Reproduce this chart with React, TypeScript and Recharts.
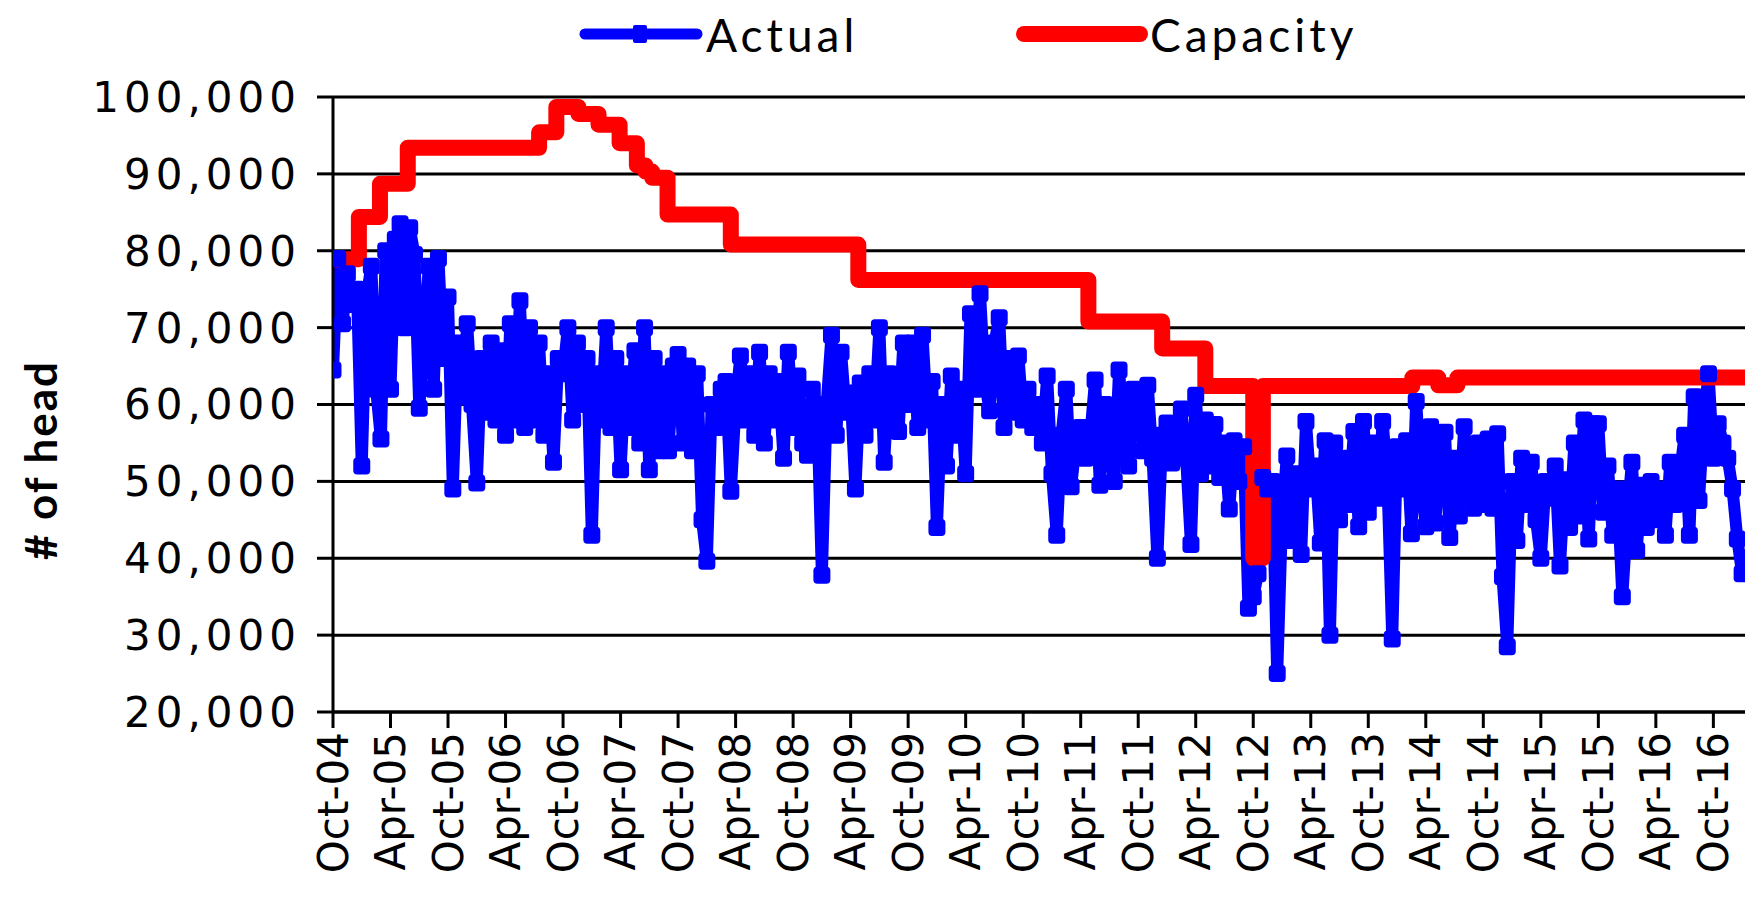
import { LineChart, Line, XAxis, YAxis, CartesianGrid } from "recharts"

// Actual head count, thousands, one value every half month.
// Each array is one Oct..Sep year, starting Oct-04.
const FY05 = [64.5, 79, 70.5, 77, 73, 75, 52, 74, 78, 62, 55.5, 80, 62, 81.5, 83.5, 70, 83, 79.5, 59.5, 69, 78, 62, 79, 66]
const FY06 = [74, 49, 68, 61, 70.5, 60, 49.8, 66, 59, 68, 58, 67, 56, 70.5, 58, 73.5, 57, 70, 58, 68, 56, 64, 52.5, 66]
const FY07 = [64, 70, 58, 68, 60, 66, 43, 64, 58, 70, 57, 66, 51.5, 64, 57, 67, 55, 70, 51.5, 66, 54, 64, 54, 65]
const FY08 = [66.5, 55, 65, 54, 64, 45, 39.6, 60, 57, 62, 63, 48.7, 60, 66.3, 58, 64, 56, 66.8, 55, 64, 58, 63, 53, 66.8]
const FY09 = [57, 63.7, 55, 53.4, 62, 60, 37.8, 60, 69, 56, 66.8, 59, 61.5, 49, 62.8, 56, 64, 58, 70, 52.5, 64, 60, 56.5, 68]
const FY10 = [60, 68, 57, 69, 58, 63, 44, 60, 52, 63.7, 56, 62, 51, 71.8, 62, 74.4, 63, 59.2, 68, 71.3, 57, 66, 59, 66.3]
const FY11 = [58, 62, 57, 60, 55, 63.7, 51, 43, 56, 62, 49.3, 55, 57, 53, 56, 63.2, 49.5, 60, 54, 50, 64.5, 56, 52, 62]
const FY12 = [61, 54, 62.5, 53, 40, 56, 57.6, 52.4, 56, 59.4, 53, 41.8, 61.2, 51, 58, 52, 57.4, 50.5, 55, 46.4, 55.3, 50, 54.5, 33.5]
const FY13 = [35, 38, 50.5, 49, 50, 25, 45, 53.3, 42.3, 51, 40.5, 57.8, 49, 52, 42, 55.3, 30, 55, 45, 53, 47, 56.5, 44.1, 57.8]
const FY14 = [46, 55, 47.8, 57.8, 50, 29.5, 54.5, 49, 55.3, 43.2, 60.4, 50, 44.1, 57.1, 44.6, 55, 56.4, 42.7, 53, 45.5, 57.1, 48.3, 46.5, 55]
const FY15 = [47, 55.5, 46.5, 56.2, 37.6, 28.5, 50, 42.3, 53, 47, 52.5, 45, 40, 50, 47.8, 52, 39, 50.2, 44, 55, 45.5, 58, 42.5, 57.5]
const FY16 = [57.5, 46, 52, 43, 49, 35, 45, 52.5, 41, 49.5, 44, 50, 45, 49, 43, 52.5, 47, 51, 56, 43, 61, 47.5, 58, 64]
const FY17 = [53, 57.5, 55, 53, 49, 42.5, 38, 40]

const ACTUAL_YEARS = [FY05, FY06, FY07, FY08, FY09, FY10, FY11, FY12, FY13, FY14, FY15, FY16, FY17]

// Capacity changes: months since Oct-04 and the new level, thousands
const CAP_MONTHS = [0, 2.7, 4.9, 7.8, 21.5, 23.3, 25.6, 27.7, 29.9, 31.7, 32.6, 33.3, 34.9, 41.5, 54.8, 78.8, 86.5, 91, 96, 97, 112.6, 115.3, 117.3, 148]
const CAP_VALUES = [78.9, 84.4, 88.7, 93.4, 95.4, 98.7, 97.8, 96.4, 94, 91.1, 90.3, 89.5, 84.7, 80.8, 76.2, 70.8, 67.3, 62.4, 40, 62.4, 63.5, 62.5, 63.5, 63.5]

const TICK_MONTHS = [0, 6, 12, 18, 24, 30, 36, 42, 48, 54, 60, 66, 72, 78, 84, 90, 96, 102, 108, 114, 120, 126, 132, 138, 144]
const Y_TICKS = [20000, 30000, 40000, 50000, 60000, 70000, 80000, 90000, 100000]

const actualData = ACTUAL_YEARS.flatMap((year, y) =>
  year.map((v, i) => ({ m: y * 12 + i * 0.5, actual: v * 1000 }))
)
const capacityData = CAP_MONTHS.map((m, i) => ({ m, capacity: CAP_VALUES[i] * 1000 }))

// month offset from Oct-04 -> "Oct-04" / "Apr-05"
const tickLabel = (m: number) => {
  const isOct = m % 12 === 0
  const yy = isOct ? 2004 + m / 12 : 2005 + Math.floor(m / 12)
  return `${isOct ? "Oct" : "Apr"}-${String(yy % 100).padStart(2, "0")}`
}

const FONT = "'DejaVu Sans', Verdana, sans-serif"
const LEGEND_FONT = "Lato, Calibri, sans-serif"

function XTick({ x, y, payload }: any) {
  return (
    <text
      x={x}
      y={y}
      transform={`rotate(-90 ${x} ${y})`}
      textAnchor="end"
      dominantBaseline="central"
      fontFamily={FONT}
      fontSize={42}
      fill="#000"
    >
      {tickLabel(payload.value)}
    </text>
  )
}

function SquareDot(props: any) {
  const { cx, cy, index } = props
  if (cx == null || cy == null) return <g key={index} />
  return <rect key={index} x={cx - 8.5} y={cy - 8.5} width={17} height={17} rx={4} fill="#0000FF" />
}

function LegendBar() {
  return (
    <svg width={1750} height={70} style={{ position: "absolute", left: 0, top: 0 }}>
      <line x1={585} y1={34} x2={697} y2={34} stroke="#0000FF" strokeWidth={11} strokeLinecap="round" />
      <rect x={633} y={25} width={14} height={18} rx={2} fill="#0000FF" />
      <text x={706} y={34} dominantBaseline="central" fontFamily={LEGEND_FONT} fontSize={46} letterSpacing={4} fill="#000">
        Actual
      </text>
      <line x1={1024} y1={34} x2={1140} y2={34} stroke="#FF0000" strokeWidth={16} strokeLinecap="round" />
      <text x={1150} y={34} dominantBaseline="central" fontFamily={LEGEND_FONT} fontSize={46} letterSpacing={4} fill="#000">
        Capacity
      </text>
    </svg>
  )
}

export default function App() {
  return (
    <div style={{ position: "absolute", left: 0, top: 0, width: 1750, height: 903, background: "#fff" }}>
      <LineChart width={1750} height={903} margin={{ top: 97, right: 5, left: 0, bottom: 0 }}>
        <CartesianGrid vertical={false} stroke="#000" strokeWidth={3} />
        <XAxis
          type="number"
          dataKey="m"
          domain={[0, 147.3]}
          ticks={TICK_MONTHS}
          allowDataOverflow
          height={191}
          tickSize={16}
          tickMargin={4}
          stroke="#000"
          strokeWidth={3}
          tick={<XTick />}
          interval={0}
        />
        <YAxis
          type="number"
          domain={[20000, 100000]}
          ticks={Y_TICKS}
          width={333}
          tickSize={16}
          tickMargin={16}
          stroke="#000"
          strokeWidth={3}
          tickFormatter={(v: number) => v.toLocaleString("en-US")}
          tick={{ fontFamily: FONT, fontSize: 42, fill: "#000", letterSpacing: 5 }}
          interval={0}
        />
        <Line
          data={actualData}
          dataKey="actual"
          stroke="#0000FF"
          strokeWidth={12}
          strokeLinejoin="round"
          strokeLinecap="round"
          dot={SquareDot}
          activeDot={false}
          isAnimationActive={false}
        />
        <Line
          data={capacityData}
          dataKey="capacity"
          type="stepAfter"
          stroke="#FF0000"
          strokeWidth={16}
          strokeLinejoin="round"
          strokeLinecap="round"
          dot={false}
          activeDot={false}
          isAnimationActive={false}
        />
      </LineChart>
      <LegendBar />
      <div
        style={{
          position: "absolute",
          left: 40,
          top: 460,
          transform: "translate(-50%, -50%) rotate(-90deg)",
          fontFamily: LEGEND_FONT,
          fontWeight: 700,
          fontSize: 44,
          letterSpacing: 2,
          whiteSpace: "nowrap",
          color: "#000",
        }}
      >
        # of head
      </div>
    </div>
  )
}
